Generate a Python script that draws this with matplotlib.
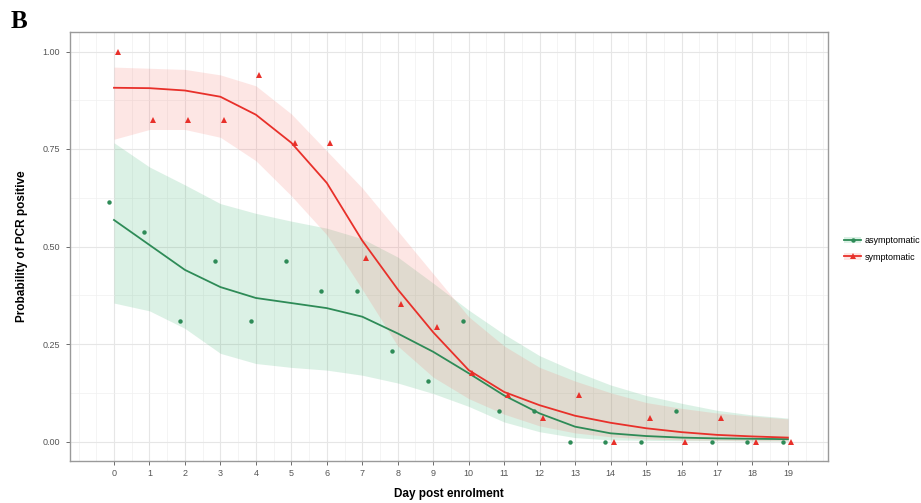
import numpy as np
import matplotlib
matplotlib.use("Agg")
import matplotlib.pyplot as plt
from matplotlib.patches import Patch
from matplotlib.lines import Line2D
from matplotlib.ticker import MultipleLocator

plt.rcParams['font.family'] = ['Liberation Sans', 'DejaVu Sans']

days = np.arange(20)

# observed proportion PCR positive per day
asym_obs = [0.615, 0.538, 0.308, 0.462, 0.308, 0.462, 0.385, 0.385, 0.231, 0.154,
            0.308, 0.077, 0.077, 0.0, 0.0, 0.0, 0.077, 0.0, 0.0, 0.0]
sym_obs = [1.0, 0.824, 0.824, 0.824, 0.941, 0.765, 0.765, 0.471, 0.353, 0.294,
           0.176, 0.118, 0.059, 0.118, 0.0, 0.059, 0.0, 0.059, 0.0, 0.0]

# model fit with confidence band
asym_fit = [0.568, 0.504, 0.44, 0.396, 0.368, 0.355, 0.342, 0.32, 0.277, 0.23,
            0.175, 0.118, 0.072, 0.038, 0.021, 0.014, 0.01, 0.008, 0.007, 0.006]
asym_hi = [0.766, 0.704, 0.658, 0.61, 0.585, 0.565, 0.547, 0.52, 0.473, 0.406,
           0.337, 0.275, 0.22, 0.18, 0.145, 0.118, 0.098, 0.08, 0.068, 0.06]
asym_lo = [0.355, 0.335, 0.29, 0.226, 0.2, 0.19, 0.183, 0.17, 0.15, 0.123,
           0.09, 0.05, 0.025, 0.01, 0.004, 0.003, 0.002, 0.002, 0.001, 0.001]

sym_fit = [0.907, 0.906, 0.90, 0.884, 0.838, 0.766, 0.663, 0.515, 0.39, 0.28,
           0.183, 0.127, 0.093, 0.066, 0.048, 0.034, 0.024, 0.017, 0.013, 0.01]
sym_hi = [0.96, 0.957, 0.954, 0.94, 0.912, 0.84, 0.745, 0.65, 0.54, 0.43,
          0.32, 0.245, 0.19, 0.155, 0.125, 0.1, 0.085, 0.073, 0.065, 0.058]
sym_lo = [0.775, 0.80, 0.80, 0.78, 0.72, 0.63, 0.53, 0.39, 0.245, 0.165,
          0.11, 0.07, 0.04, 0.022, 0.012, 0.007, 0.004, 0.003, 0.002, 0.002]

green = "#2e8b57"
red = "#e8302a"

fig = plt.figure(figsize=(9.21, 5.03), dpi=100)
ax = fig.add_axes([70/921, 1-461/503, (828-70)/921, (461-32)/503])

ax.fill_between(days, asym_lo, asym_hi, color="#3cb371", alpha=0.18, lw=0, zorder=2)
ax.fill_between(days, sym_lo, sym_hi, color="#f8766d", alpha=0.18, lw=0, zorder=3)
ax.plot(days, asym_fit, color=green, lw=1.3, zorder=4)
ax.plot(days, sym_fit, color=red, lw=1.3, zorder=4)
ax.plot(days - 0.15, asym_obs, 'o', color=green, ms=3.2, mew=0, zorder=5)
ax.plot(days + 0.1, sym_obs, '^', color=red, ms=4.2, mew=0, zorder=5)

ax.set_xlim(-1.24, 20.13)
ax.set_ylim(-0.05, 1.05)
ax.set_xticks(days)
ax.set_yticks([0, 0.25, 0.5, 0.75, 1.0])
ax.set_yticklabels(["0.00", "0.25", "0.50", "0.75", "1.00"])
ax.xaxis.set_minor_locator(MultipleLocator(0.5))
ax.yaxis.set_minor_locator(MultipleLocator(0.125))
ax.grid(which="major", color="#e6e6e6", lw=0.8, zorder=0)
ax.grid(which="minor", color="#f0f0f0", lw=0.5, zorder=0)
ax.set_axisbelow(True)
ax.tick_params(which="major", length=3, width=0.6, color="#555555",
               labelsize=6.5, labelcolor="#555555", pad=3)
ax.tick_params(axis="y", pad=4)
ax.tick_params(which="minor", length=0)
for s in ax.spines.values():
    s.set_color("#9a9a9a")
    s.set_linewidth(1.0)

ax.set_xlabel("Day post enrolment", fontsize=8.5, fontweight="bold")
ax.set_ylabel("Probability of PCR positive", fontsize=8.5, fontweight="bold")
ax.xaxis.set_label_coords(0.5, -0.063)
ax.yaxis.set_label_coords(-0.055, 0.5)

handles = [
    (Patch(facecolor="#3cb371", alpha=0.18, lw=0),
     Line2D([], [], color=green, lw=1.3, marker='o', ms=3.2, mew=0)),
    (Patch(facecolor="#f8766d", alpha=0.18, lw=0),
     Line2D([], [], color=red, lw=1.3, marker='^', ms=4.2, mew=0)),
]
fig.legend(handles, ["asymptomatic", "symptomatic"], loc="center left",
           bbox_to_anchor=(836/921, 1-249/503), frameon=False, fontsize=6.5,
           handlelength=1.9, handletextpad=0.4, labelspacing=0.8)

fig.text(0.011, 0.98, "B", fontsize=18, fontweight="bold",
         family="Liberation Serif", va="top", ha="left")

fig.savefig("out.png", dpi=100)
